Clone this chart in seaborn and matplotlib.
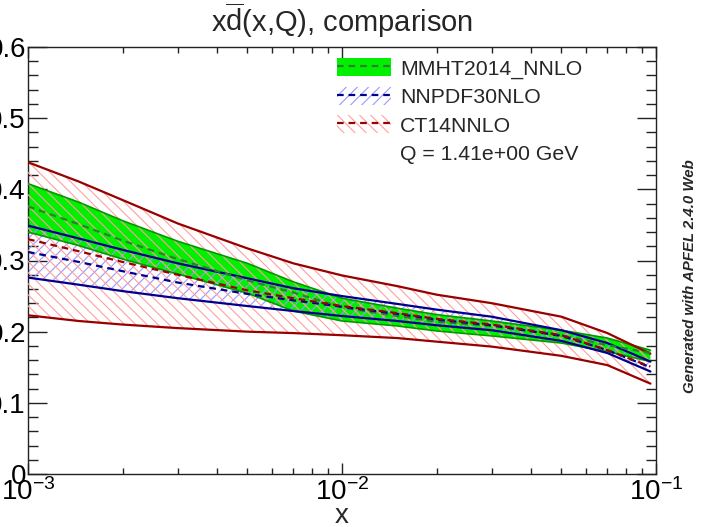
import numpy as np
import pandas as pd
import matplotlib
matplotlib.use("Agg")
import matplotlib.pyplot as plt
import seaborn as sns
from matplotlib.patches import Patch
from matplotlib.lines import Line2D
from matplotlib.legend_handler import HandlerTuple
from matplotlib.ticker import LogLocator, FixedLocator, MultipleLocator, FuncFormatter, NullFormatter

# ---------------- data ----------------
x = [1e-3, 1.45e-3, 2e-3, 3e-3, 5e-3, 7e-3, 1e-2, 1.5e-2, 2e-2, 3e-2, 5e-2, 7e-2, 0.096]

mmht_up = [0.408, 0.382, 0.356, 0.327, 0.296, 0.270, 0.247, 0.233, 0.224, 0.215, 0.202, 0.191, 0.174]
mmht_c  = [0.376, 0.351, 0.328, 0.302, 0.272, 0.255, 0.234, 0.222, 0.214, 0.208, 0.195, 0.181, 0.170]
mmht_lo = [0.340, 0.321, 0.302, 0.281, 0.254, 0.229, 0.215, 0.208, 0.201, 0.194, 0.184, 0.172, 0.158]

nnpdf_up = [0.349, 0.331, 0.315, 0.296, 0.275, 0.261, 0.250, 0.239, 0.231, 0.221, 0.202, 0.184, 0.158]
nnpdf_c  = [0.312, 0.298, 0.285, 0.269, 0.253, 0.244, 0.235, 0.225, 0.217, 0.209, 0.194, 0.174, 0.150]
nnpdf_lo = [0.276, 0.266, 0.257, 0.247, 0.236, 0.229, 0.222, 0.215, 0.209, 0.202, 0.187, 0.170, 0.144]

ct14_up = [0.438, 0.411, 0.385, 0.352, 0.317, 0.296, 0.279, 0.264, 0.252, 0.240, 0.221, 0.198, 0.169]
ct14_c  = [0.330, 0.313, 0.298, 0.280, 0.258, 0.247, 0.236, 0.226, 0.218, 0.210, 0.195, 0.174, 0.151]
ct14_lo = [0.223, 0.215, 0.210, 0.205, 0.200, 0.198, 0.195, 0.191, 0.186, 0.179, 0.166, 0.153, 0.127]

labels = ["MMHT2014_NNLO", "NNPDF30NLO", "CT14NNLO"]
q_label = "Q = 1.41e+00 GeV"
title = r"x$\overline{\mathrm{d}}$(x,Q), comparison"
side_text = "Generated with APFEL 2.4.0 Web"
xticks_major = [1e-3, 1e-2, 1e-1]
yticks_major = [0, 0.1, 0.2, 0.3, 0.4, 0.5, 0.6]

# ---------------- style ----------------
sns.set_theme(style="ticks")
plt.rcParams["font.family"] = ["Liberation Sans", "DejaVu Sans"]
plt.rcParams["mathtext.fontset"] = "custom"
plt.rcParams["mathtext.rm"] = "Liberation Sans"
plt.rcParams["mathtext.it"] = "Liberation Sans:italic"
plt.rcParams["mathtext.bf"] = "Liberation Sans:bold"
plt.rcParams["mathtext.default"] = "regular"
plt.rcParams["hatch.linewidth"] = 0.8

W, H = 702, 527
fig = plt.figure(figsize=(W / 100, H / 100), dpi=100)
ax = fig.add_axes([28 / W, 1 - 474 / H, (656 - 28) / W, (474 - 47) / H])

df = pd.DataFrame({"x": x,
                   "mmht_up": mmht_up, "mmht_c": mmht_c, "mmht_lo": mmht_lo,
                   "nnpdf_up": nnpdf_up, "nnpdf_c": nnpdf_c, "nnpdf_lo": nnpdf_lo,
                   "ct14_up": ct14_up, "ct14_c": ct14_c, "ct14_lo": ct14_lo})

green_fill = "#00f000"
green_line = "#009a00"
green_dash = "#2f7f2f"
blue_hatch = "#9a9aff"
blue_line = "#00008f"
red_hatch = "#ff9f9f"
red_line = "#990000"
HATCH_NN = "///"
HATCH_CT = "\\\\\\"
DASH = (3, 2.2)

# bands
ax.fill_between(df["x"], df["mmht_lo"], df["mmht_up"], facecolor=green_fill,
                edgecolor="none", zorder=1)
ax.fill_between(df["x"], df["nnpdf_lo"], df["nnpdf_up"], facecolor="none",
                edgecolor=blue_hatch, hatch=HATCH_NN, linewidth=0, zorder=2)
ax.fill_between(df["x"], df["ct14_lo"], df["ct14_up"], facecolor="none",
                edgecolor=red_hatch, hatch=HATCH_CT, linewidth=0, zorder=3)

# band edges
for col in ["mmht_up", "mmht_lo"]:
    sns.lineplot(data=df, x="x", y=col, ax=ax, color=green_line, lw=1.2, zorder=4)
for col in ["nnpdf_up", "nnpdf_lo"]:
    sns.lineplot(data=df, x="x", y=col, ax=ax, color=blue_line, lw=1.6, zorder=5)
for col in ["ct14_up", "ct14_lo"]:
    sns.lineplot(data=df, x="x", y=col, ax=ax, color=red_line, lw=1.6, zorder=5)

# central values
for col, c, z in [("mmht_c", green_dash, 6), ("nnpdf_c", blue_line, 6), ("ct14_c", red_line, 7)]:
    sns.lineplot(data=df, x="x", y=col, ax=ax, color=c, lw=1.6, zorder=z)
    ax.lines[-1].set_dashes(DASH)

# axes
ax.set_xscale("log")
ax.set_xlim(1e-3, 1e-1)
ax.set_ylim(0, 0.6)
ax.xaxis.set_major_locator(FixedLocator(xticks_major))
ax.xaxis.set_minor_locator(LogLocator(base=10, subs=np.arange(2, 10)))
ax.xaxis.set_minor_formatter(NullFormatter())
ax.xaxis.set_major_formatter(FuncFormatter(lambda v, p: r"$10^{%d}$" % int(round(np.log10(v)))))
ax.yaxis.set_major_locator(FixedLocator(yticks_major))
ax.yaxis.set_minor_locator(MultipleLocator(0.02))
ax.yaxis.set_major_formatter(FuncFormatter(lambda v, p: "0" if v == 0 else ("%.1f" % v)))

ax.tick_params(axis="both", which="both", direction="in", top=True, right=True,
               colors="#222222", width=1.0, labelcolor="black", labelsize=20)
ax.tick_params(axis="y", which="major", length=13.5, pad=1.5)
ax.tick_params(axis="y", which="minor", length=7)
ax.tick_params(axis="x", which="major", length=8, pad=3)
ax.tick_params(axis="x", which="minor", length=4.5)
for s in ax.spines.values():
    s.set_linewidth(1.0)
    s.set_color("#222222")

ax.set_xlabel("x", fontsize=20)
ax.xaxis.label.set_va("baseline")
ax.xaxis.set_label_coords(0.5, -(523 - 474) / (474 - 47))
ax.set_ylabel("")
fig.text(342 / W, 1 - 32 / H, title, ha="center", va="baseline", fontsize=21)

# legend
def dash_line(c):
    return Line2D([], [], color=c, lw=1.6, ls=(0, DASH))

h_mmht = (Patch(facecolor=green_fill, edgecolor="none"), dash_line(green_dash))
h_nn = (Patch(facecolor="none", edgecolor=blue_hatch, hatch=HATCH_NN, linewidth=0), dash_line(blue_line))
h_ct = (Patch(facecolor="none", edgecolor=red_hatch, hatch=HATCH_CT, linewidth=0), dash_line(red_line))
h_q = Patch(facecolor="none", edgecolor="none")
leg = ax.legend([h_mmht, h_nn, h_ct, h_q], labels + [q_label],
                handler_map={tuple: HandlerTuple(ndivide=1, pad=0)},
                loc="upper left",
                bbox_to_anchor=((337 - 28) / (656 - 28), (474 - 58) / (474 - 47)),
                frameon=False, fontsize=15.3, handlelength=2.54, handleheight=0.94,
                handletextpad=0.42, labelspacing=0.38, borderaxespad=0, borderpad=0)

fig.text(690 / W, 1 - 276 / H, side_text, rotation=90, ha="center", va="center",
         fontsize=10.8, fontweight="bold", fontstyle="italic")

fig.savefig("out.png", dpi=100)
